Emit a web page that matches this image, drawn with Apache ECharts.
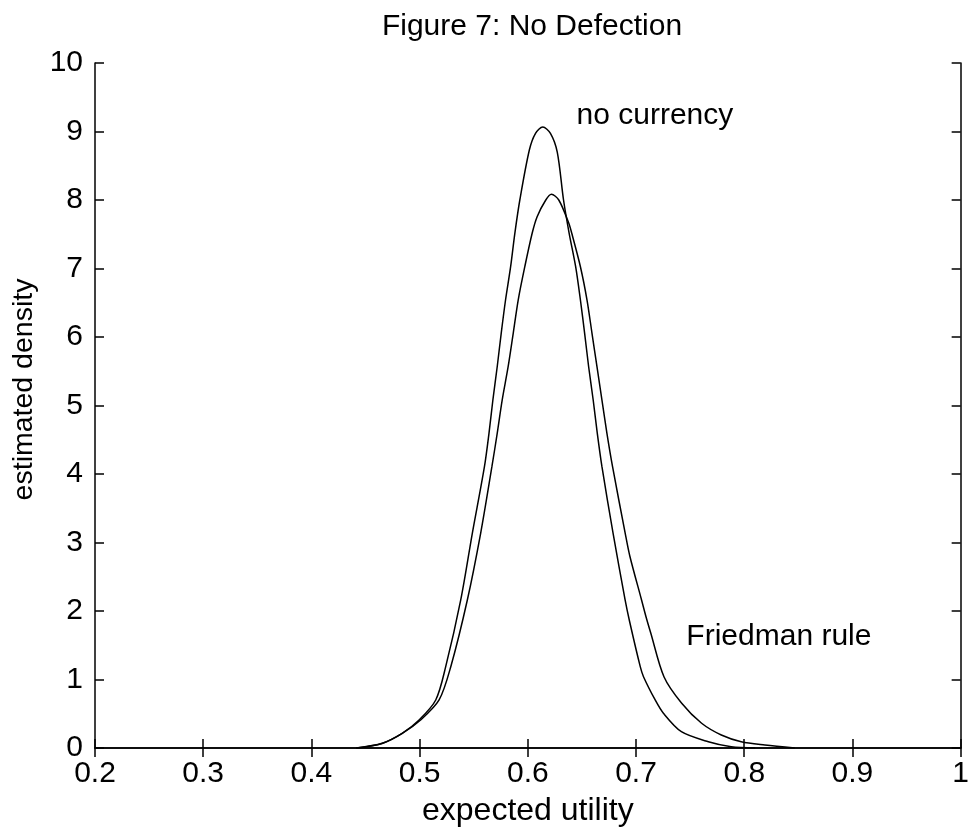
<!DOCTYPE html>
<html>
<head>
<meta charset="utf-8">
<script src="https://cdn.jsdelivr.net/npm/echarts@6/dist/echarts.min.js"></script>
<style>
html,body{margin:0;padding:0;background:#fff;}
#chart{width:972px;height:836px;}
</style>
</head>
<body>
<div id="chart"></div>
<script>
// ---- data ----
const titleText = 'Figure 7: No Defection';
const xName = 'expected utility';
const yName = 'estimated density';

const noCurrencyX = [0.4415, 0.4654, 0.4839, 0.4995, 0.5149, 0.5241, 0.5380, 0.5487, 0.5599, 0.5641, 0.5677, 0.5717, 0.5754, 0.5794, 0.5841, 0.5880, 0.5926, 0.6014, 0.6071, 0.6138, 0.6209, 0.6272, 0.6330, 0.6382, 0.6442, 0.6486, 0.6525, 0.6562, 0.6604, 0.6642, 0.6685, 0.6788, 0.6899, 0.6940, 0.7039, 0.7069, 0.7177, 0.7253, 0.7419, 0.7668, 0.7880, 0.8101];
const noCurrencyY = [0, 0.069, 0.215, 0.409, 0.701, 1.187, 2.161, 3.134, 4.107, 4.594, 5.080, 5.566, 6.054, 6.540, 7.026, 7.514, 8.0, 8.730, 8.974, 9.066, 8.974, 8.700, 8.0, 7.514, 7.026, 6.540, 6.054, 5.566, 5.080, 4.594, 4.107, 3.134, 2.161, 1.850, 1.187, 1.041, 0.701, 0.507, 0.238, 0.092, 0.019, 0];

const friedmanX = [0.4415, 0.4654, 0.4839, 0.5009, 0.5180, 0.5288, 0.5441, 0.5564, 0.5668, 0.5717, 0.5763, 0.5818, 0.5865, 0.5911, 0.5972, 0.6040, 0.6086, 0.6166, 0.6218, 0.6286, 0.6378, 0.6406, 0.6486, 0.6547, 0.6593, 0.6639, 0.6685, 0.6731, 0.6783, 0.6900, 0.6943, 0.7051, 0.7092, 0.7136, 0.7258, 0.7422, 0.7606, 0.7788, 0.7972, 0.8191, 0.8467];
const friedmanY = [0, 0.066, 0.212, 0.409, 0.701, 1.187, 2.161, 3.134, 4.107, 4.594, 5.080, 5.566, 6.054, 6.540, 7.026, 7.514, 7.756, 8.0, 8.083, 8.0, 7.664, 7.514, 7.026, 6.540, 6.054, 5.566, 5.080, 4.594, 4.107, 3.134, 2.800, 2.161, 1.917, 1.679, 1.041, 0.653, 0.361, 0.190, 0.092, 0.044, 0];

const annotations = [
  {text: 'no currency', x: 0.645, y: 9.23},
  {text: 'Friedman rule', x: 0.7465, y: 1.62}
];

const xMin = 0.2, xMax = 1, xStep = 0.1;
const yMin = 0, yMax = 10, yStep = 1;

// ---- chart ----
const FONT = '"Liberation Sans", Arial, sans-serif';
const pairs = (xs, ys) => xs.map((x, i) => [x, ys[i]]);
const chart = echarts.init(document.getElementById('chart'), null, {renderer: 'canvas'});

const axisLineStyle = {color: '#000', width: 1.5};
const tickStyle = {show: true, inside: true, length: 9, lineStyle: {color: '#000', width: 1.5}};

chart.setOption({
  animation: false,
  backgroundColor: '#fff',
  title: {
    text: titleText,
    left: 527, top: 7, textAlign: 'center',
    textStyle: {fontFamily: FONT, fontSize: 30, fontWeight: 'normal', color: '#000'}
  },
  grid: {left: 95, right: 9, top: 63, bottom: 88, containLabel: false},
  xAxis: [{
    type: 'value', min: xMin, max: xMax, interval: xStep,
    name: xName, nameLocation: 'middle', nameGap: 47,
    nameTextStyle: {fontFamily: FONT, fontSize: 32, color: '#000'},
    axisLine: {show: true, lineStyle: axisLineStyle},
    axisTick: tickStyle,
    axisLabel: {fontFamily: FONT, fontSize: 30, color: '#000', margin: 11},
    splitLine: {show: false}
  }, {
    type: 'value', position: 'top', min: xMin, max: xMax, interval: xStep,
    axisLine: {show: true, lineStyle: axisLineStyle},
    axisTick: tickStyle, axisLabel: {show: false}, splitLine: {show: false}
  }],
  yAxis: [{
    type: 'value', min: yMin, max: yMax, interval: yStep,
    name: yName, nameLocation: 'middle', nameGap: 54,
    nameTextStyle: {fontFamily: FONT, fontSize: 28.5, color: '#000', padding: [0, 0, 0, 32]},
    axisLine: {show: true, lineStyle: axisLineStyle},
    axisTick: tickStyle,
    axisLabel: {fontFamily: FONT, fontSize: 30, color: '#000', margin: 12},
    splitLine: {show: false}
  }, {
    type: 'value', position: 'right', min: yMin, max: yMax, interval: yStep,
    axisLine: {show: true, lineStyle: axisLineStyle},
    axisTick: tickStyle, axisLabel: {show: false}, splitLine: {show: false}
  }],
  series: [{
    name: 'no currency', type: 'line', smooth: 0.3, symbol: 'none',
    data: pairs(noCurrencyX, noCurrencyY),
    lineStyle: {color: '#000', width: 1.5}
  }, {
    name: 'Friedman rule', type: 'line', smooth: 0.3, symbol: 'none',
    data: pairs(friedmanX, friedmanY),
    lineStyle: {color: '#000', width: 1.5}
  }, {
    name: 'labels', type: 'scatter', symbolSize: 0, silent: true,
    itemStyle: {opacity: 1},
    data: annotations.map(a => ({value: [a.x, a.y], name: a.text})),
    label: {
      show: true, position: [0, 0], align: 'left', verticalAlign: 'middle',
      formatter: p => p.name, opacity: 1,
      fontFamily: FONT, fontSize: 30, color: '#000'
    }
  }]
});
</script>
</body>
</html>
